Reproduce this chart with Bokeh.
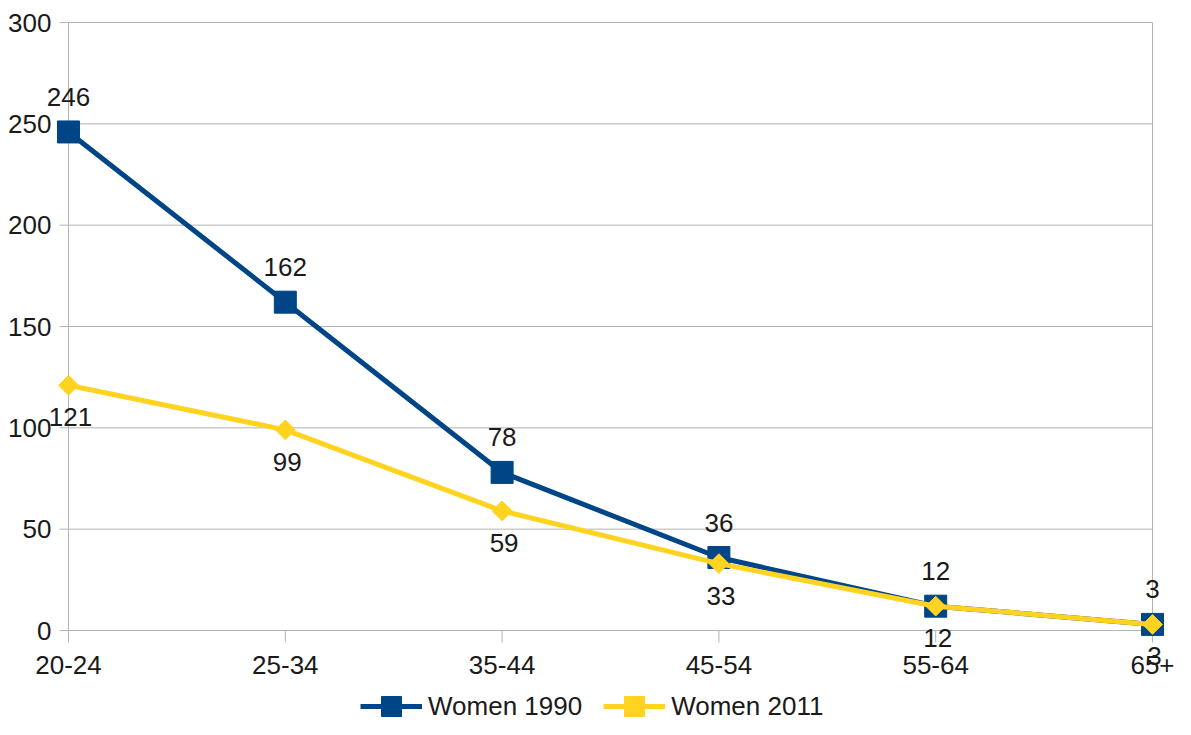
import numpy as np
from bokeh.plotting import figure
from bokeh.models import Range1d, Legend, LegendItem, ColumnDataSource
from bokeh.core.properties import value
from bokeh.embed import file_html
from bokeh.resources import INLINE

categories = ["20-24", "25-34", "35-44", "45-54", "55-64", "65+"]
women_1990 = [246, 162, 78, 36, 12, 3]
women_2011 = [121, 99, 59, 33, 12, 3]
y_ticks = [0, 50, 100, 150, 200, 250, 300]

BLUE = "#004586"
YELLOW = "#ffd320"
GRID = "#b3b3b3"
TEXT = "#1a1a1a"
FONT = "Liberation Sans"
FS = "26px"

# layout (pixels)
W, H = 1175, 719
PL, PR, PT, PB = 68, 1152, 22, 630   # plot area edges inside the figure

n = len(categories)
xs = list(range(n))
ymax = y_ticks[-1]
xscale = (PR - PL) / (n - 1)
yscale = (PB - PT) / ymax
x_range = Range1d(0 - PL / xscale, (n - 1) + (W - PR) / xscale)
y_range = Range1d(0 - (H - PB) / yscale, ymax + PT / yscale)

p = figure(width=W, height=H, output_backend="svg", toolbar_location=None,
           x_range=x_range, y_range=y_range, x_axis_type=None, y_axis_type=None,
           min_border=0)
p.min_border_left = p.min_border_right = p.min_border_top = p.min_border_bottom = 0
p.background_fill_color = "white"
p.border_fill_color = "white"
p.outline_line_color = None
p.grid.visible = False

# grid and frame lines
grid = ColumnDataSource(dict(y=y_ticks, x0=[0] * len(y_ticks), x1=[n - 1] * len(y_ticks)))
p.segment(x0="x0", y0="y", x1="x1", y1="y", source=grid, line_color=GRID, line_width=1)
p.segment(x0=[0, n - 1], y0=[0, 0], x1=[0, n - 1], y1=[ymax, ymax], line_color=GRID, line_width=1)
# ticks
p.ray(x=[0] * len(y_ticks), y=y_ticks, length=9, length_units="screen", angle=np.pi,
      line_color=GRID, line_width=1)
p.ray(x=xs, y=[0] * n, length=12, length_units="screen", angle=-np.pi / 2,
      line_color=GRID, line_width=1)
# tick labels
p.text(x=[0] * len(y_ticks), y=y_ticks, text=[str(t) for t in y_ticks], x_offset=-17,
       text_align="right", text_baseline="middle", text_font=value(FONT),
       text_font_size=FS, text_color=TEXT)
p.text(x=xs, y=[0] * n, text=categories, y_offset=34, text_align="center",
       text_baseline="middle", text_font=value(FONT), text_font_size=FS, text_color=TEXT)

src90 = ColumnDataSource(dict(x=xs, y=women_1990, t=[str(v) for v in women_1990]))
src11 = ColumnDataSource(dict(x=xs, y=women_2011, t=[str(v) for v in women_2011]))

l1 = p.line("x", "y", source=src90, line_color=BLUE, line_width=5)
m1 = p.scatter("x", "y", source=src90, marker="square", size=22, fill_color=BLUE, line_color=BLUE)
l2 = p.line("x", "y", source=src11, line_color=YELLOW, line_width=5)
m2 = p.scatter("x", "y", source=src11, marker="square", angle=np.pi / 4, size=14,
               fill_color=YELLOW, line_color=YELLOW)

p.text("x", "y", text="t", source=src90, y_offset=-35, text_align="center", text_baseline="middle",
       text_font=value(FONT), text_font_size=FS, text_color=TEXT)
p.text("x", "y", text="t", source=src11, y_offset=32, x_offset=2, text_align="center",
       text_baseline="middle", text_font=value(FONT), text_font_size=FS, text_color=TEXT)

legend = Legend(items=[LegendItem(label="Women 1990", renderers=[l1, m1]),
                       LegendItem(label="Women 2011", renderers=[l2, m2])],
                orientation="horizontal", location=(360, -12),
                glyph_width=62, glyph_height=50, label_height=26, label_standoff=6, spacing=21,
                padding=0, margin=0, border_line_color=None, background_fill_alpha=0,
                label_text_font=FONT, label_text_font_size=FS, label_text_color=TEXT)
p.add_layout(legend, "center")

open("out.html", "w").write(file_html(p, INLINE))
